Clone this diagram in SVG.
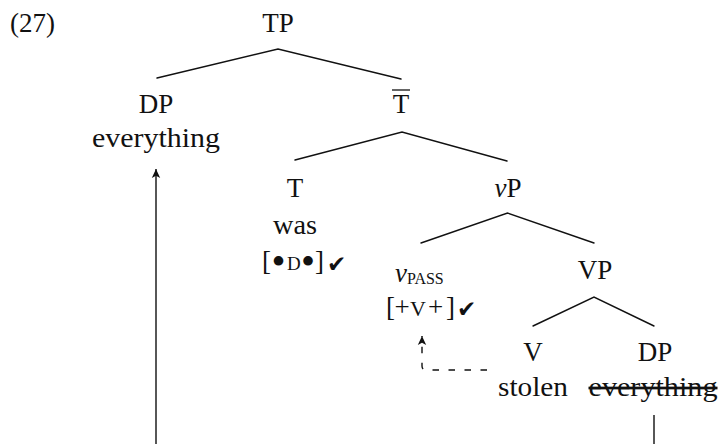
<svg xmlns="http://www.w3.org/2000/svg" width="721" height="444" viewBox="0 0 721 444">
  <style>
    text { font-family: "Liberation Serif", "Times New Roman", serif; font-size: 27px; fill: #111; }
    .c { text-anchor: middle; }
    .it { font-style: italic; }
    .sc { font-size: 19px; }
    .bul { font-size: 40px; }
    .chk { font-family: "DejaVu Sans", sans-serif; font-size: 23px; }
    .edge { stroke: #111; stroke-width: 1.4; fill: none; stroke-linecap: round; }
    .move { stroke: #111; stroke-width: 1.4; fill: none; }
    .dash { stroke-dasharray: 6.5 9.5; }
    .strike { text-decoration: line-through; }
  </style>
  <defs>
    <marker id="arr" markerUnits="userSpaceOnUse" markerWidth="12" markerHeight="12" refX="9" refY="5" orient="auto" viewBox="0 0 12 10">
      <path d="M0,0.8 L9,5 L0,9.2 L2.2,5 z" fill="#111"/>
    </marker>
  </defs>

  <rect width="721" height="444" fill="#fff"/>

  <!-- example number -->
  <g id="ex-num"><text x="10" y="32">(27)</text></g>

  <!-- tree nodes -->
  <g id="node-TP"><text class="c" x="278" y="32">TP</text></g>

  <g id="node-DP-subj">
    <text class="c" x="156" y="113">DP</text>
    <text class="c" x="156" y="147" textLength="128" lengthAdjust="spacingAndGlyphs">everything</text>
  </g>

  <g id="node-Tbar">
    <text class="c" x="401" y="113">T</text>
    <line x1="392" y1="90" x2="410" y2="90" stroke="#111" stroke-width="1.3"/>
  </g>

  <g id="node-T">
    <text class="c" x="295" y="197">T</text>
    <text class="c" x="295" y="234" textLength="44" lengthAdjust="spacingAndGlyphs">was</text>
    <text y="270"><tspan x="262">[</tspan><tspan class="bul" x="271.5" dy="4.5">•</tspan><tspan class="sc" x="287" dy="-4.5">D</tspan><tspan class="bul" x="301" dy="4.5">•</tspan><tspan x="315" dy="-4.5">]</tspan></text>
    <text class="chk" x="327" y="272">✔</text>
  </g>

  <g id="node-vP">
    <text class="c" x="508" y="197"><tspan class="it">v</tspan>P</text>
  </g>

  <g id="node-vpass">
    <text x="395" y="282"><tspan class="it">v</tspan><tspan font-size="16" dy="2">PASS</tspan></text>
    <text y="316"><tspan x="386">[</tspan><tspan x="394.5">+</tspan><tspan x="410" font-size="22">V</tspan><tspan x="428">+</tspan><tspan x="446">]</tspan></text>
    <text class="chk" x="457" y="317">✔</text>
  </g>

  <g id="node-VP"><text class="c" x="595" y="279">VP</text></g>

  <g id="node-V">
    <text class="c" x="533" y="361">V</text>
    <text class="c" x="533" y="396" textLength="70" lengthAdjust="spacingAndGlyphs">stolen</text>
  </g>

  <g id="node-DP-obj">
    <text class="c" x="655" y="361">DP</text>
    <text class="c strike" x="653" y="396" textLength="129" lengthAdjust="spacingAndGlyphs">everything</text>
  </g>

  <!-- branches and movement arrows -->
  <g id="connectors">
    <path class="edge" d="M157,78 L278,49 L401,79"/>
    <path class="edge" d="M295,160 L402,132 L507,161"/>
    <path class="edge" d="M421,243 L507.5,213 L594,243"/>
    <path class="edge" d="M533,326 L594,297 L654,326"/>
    <path class="move" d="M654,415 V448 H156 V169" marker-end="url(#arr)"/>
    <path class="move dash" d="M487,370 H426 Q422,370 422,366 V336" marker-end="url(#arr)"/>
  </g>
</svg>
